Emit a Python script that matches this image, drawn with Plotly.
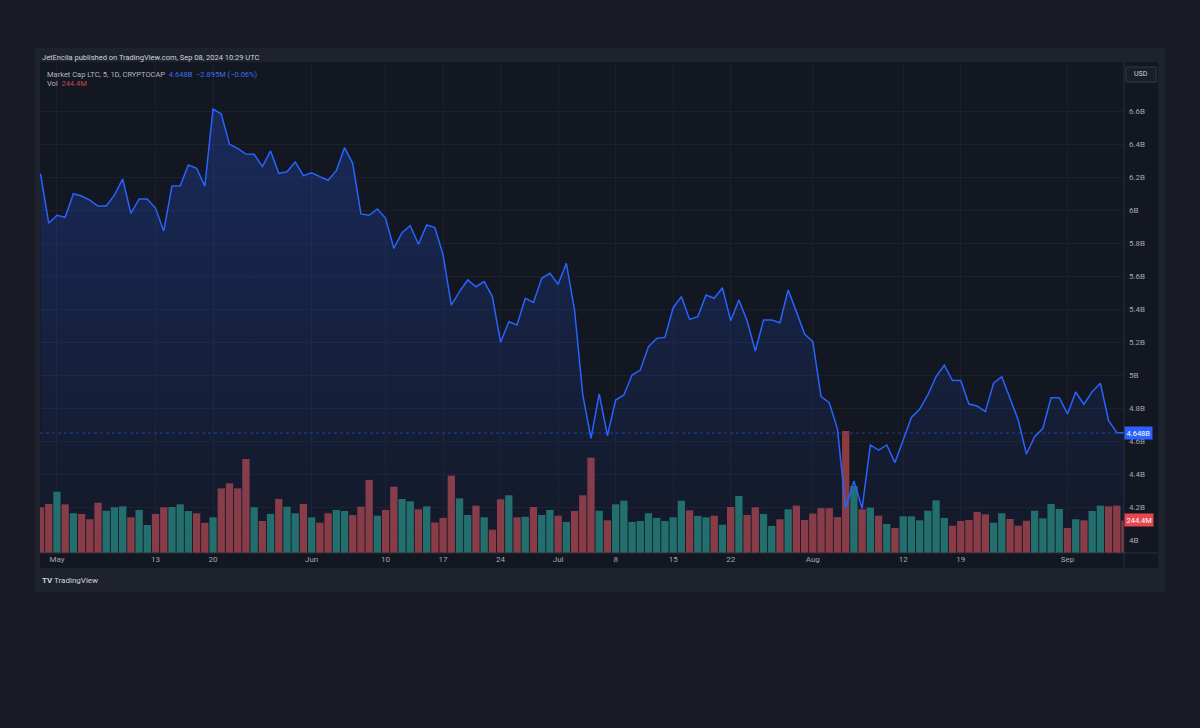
import pandas as pd
import plotly.graph_objects as go

# Market Cap LTC (CRYPTOCAP), daily, Apr 29 - Sep 8 2024, billions USD
cap_apr = [6.22, 5.92]
cap_may = [5.968, 5.956, 6.099, 6.085, 6.06, 6.024, 6.024, 6.09, 6.188, 5.98,
           6.067, 6.067, 6.01, 5.873, 6.145, 6.147, 6.273, 6.253, 6.145, 6.612,
           6.582, 6.398, 6.374, 6.339, 6.338, 6.263, 6.358, 6.222, 6.232, 6.291,
           6.208]
cap_jun = [6.226, 6.202, 6.18, 6.238, 6.378, 6.283, 5.976, 5.968, 6.006, 5.95,
           5.768, 5.862, 5.905, 5.792, 5.909, 5.893, 5.727, 5.424, 5.505, 5.576,
           5.535, 5.566, 5.475, 5.198, 5.323, 5.303, 5.465, 5.44, 5.586, 5.616]
cap_jul = [5.55, 5.677, 5.394, 4.879, 4.616, 4.885, 4.632, 4.848, 4.879, 5.0,
           5.03, 5.172, 5.222, 5.228, 5.408, 5.475, 5.337, 5.353, 5.485, 5.465,
           5.529, 5.329, 5.455, 5.329, 5.145, 5.333, 5.333, 5.317, 5.515, 5.384,
           5.248]
cap_aug = [5.202, 4.869, 4.832, 4.672, 4.192, 4.358, 4.192, 4.576, 4.545, 4.576,
           4.469, 4.606, 4.743, 4.792, 4.879, 4.99, 5.059, 4.966, 4.966, 4.824,
           4.812, 4.778, 4.95, 4.99, 4.859, 4.727, 4.521, 4.626, 4.677, 4.862,
           4.862]
cap_sep = [4.764, 4.897, 4.822, 4.899, 4.95, 4.723, 4.651, 4.648]

# volume, millions USD
vol_apr = [343, 368]
vol_may = [460, 365, 298, 293, 253, 377, 317, 343, 350, 268,
           323, 210, 293, 343, 345, 365, 315, 298, 227, 268,
           485, 523, 485, 705, 343, 240, 293, 405, 347, 298,
           368]
vol_jun = [268, 227, 298, 323, 315, 285, 347, 548, 280, 323,
           497, 405, 388, 328, 350, 229, 263, 580, 410, 285,
           355, 268, 175, 403, 433, 268, 272, 345, 285, 323]
vol_jul = [280, 233, 315, 433, 715, 317, 245, 365, 392, 233,
           240, 298, 263, 240, 268, 392, 320, 278, 268, 280,
           212, 345, 428, 285, 343, 293, 203, 253, 328, 355,
           248]
vol_aug = [296, 336, 336, 269, 915, 503, 328, 340, 280, 218,
           188, 275, 275, 245, 317, 395, 263, 205, 240, 248,
           308, 290, 227, 298, 255, 205, 242, 317, 260, 368,
           330]
vol_sep = [188, 253, 245, 315, 355, 350, 355, 244.4]

# day direction (U = up, D = down) for the volume colours
dir_apr = "DD"
dir_may = "UDUDDDUUUDUUDDUUUDDUDDDDUDUDUUD"
dir_jun = "UDDUUDDDUDDUUDUDDDUUDUDDUDUDUU"
dir_jul = "DUDDDUDUUUUUUUUUDUUDUDUDDUUDUDD"
dir_aug = "DDDDDUDUDUDUUUUUUDDDDDUUDDDUUUU"
dir_sep = "DUDUUDDD"

tick_dates = ["2024-05-01", "2024-05-13", "2024-05-20", "2024-06-01", "2024-06-10",
              "2024-06-17", "2024-06-24", "2024-07-01", "2024-07-08", "2024-07-15",
              "2024-07-22", "2024-08-01", "2024-08-12", "2024-08-19", "2024-09-01"]
tick_text = ["May", "13", "20", "Jun", "10", "17", "24", "Jul", "8", "15", "22",
             "Aug", "12", "19", "Sep"]
price_ticks = [4.0, 4.2, 4.4, 4.6, 4.8, 5.0, 5.2, 5.4, 5.6, 5.8, 6.0, 6.2, 6.4, 6.6]
price_text = ["4B", "4.2B", "4.4B", "4.6B", "4.8B", "5B", "5.2B", "5.4B", "5.6B",
              "5.8B", "6B", "6.2B", "6.4B", "6.6B"]

market_cap = cap_apr + cap_may + cap_jun + cap_jul + cap_aug + cap_sep
volume = vol_apr + vol_may + vol_jun + vol_jul + vol_aug + vol_sep
direction = dir_apr + dir_may + dir_jun + dir_jul + dir_aug + dir_sep
dates = pd.date_range("2024-04-29", periods=len(market_cap), freq="D")

PAGE = "#181b26"
PANEL = "#1e222d"
CHART = "#131722"
BORDER = "#2a2e39"
GRID = "#1c202b"
LABEL = "#a3a6af"
BLUE = "#2962ff"
TEAL = "#236f68"
RED = "#8c3b41"
FONT = "Roboto"

W, H = 1200, 728
L, R, T, B = 40, 76, 63, 175


def px(x):
    return (x - L) / (W - L - R)


def py(y):
    return (H - B - y) / (H - T - B)


fig = go.Figure()

bar_colors = [TEAL if d == "U" else RED for d in direction]
fig.add_trace(go.Bar(x=dates, y=volume, marker_color=bar_colors,
                     marker_line_width=0, yaxis="y", hoverinfo="skip"))

fig.add_trace(go.Scatter(
    x=dates, y=market_cap, yaxis="y2", mode="lines",
    line=dict(color=BLUE, width=1.5),
    fill="tozeroy",
    fillgradient=dict(type="vertical", start=4.0, stop=6.7,
                      colorscale=[[0, "rgba(41,98,255,0.03)"],
                                  [1, "rgba(41,98,255,0.26)"]]),
))

last_cap = market_cap[-1]
last_vol = volume[-1]

fig.add_shape(type="line", xref="paper", x0=0, x1=1, yref="y2",
              y0=last_cap, y1=last_cap,
              line=dict(color="rgba(41,98,255,0.55)", width=1, dash="dot"))

shapes_bg = [
    # outer panel
    dict(x0=px(35), x1=px(1165), y0=py(592), y1=py(48), fillcolor=PANEL),
    # chart widget
    dict(x0=px(40), x1=px(1158), y0=py(568), y1=py(62), fillcolor=CHART),
]
for s in shapes_bg:
    fig.add_shape(type="rect", xref="paper", yref="paper", layer="below",
                  line=dict(width=0), **s)

fig.add_shape(type="line", xref="paper", yref="paper", x0=px(1124), x1=px(1124),
              y0=py(568), y1=py(62), line=dict(color=BORDER, width=1))
fig.add_shape(type="line", xref="paper", yref="paper", x0=px(40), x1=px(1158),
              y0=py(553), y1=py(553), line=dict(color=BORDER, width=1))
fig.add_shape(type="rect", xref="paper", yref="paper", x0=px(1126), x1=px(1156),
              y0=py(82), y1=py(67), line=dict(color="#363a45", width=1),
              fillcolor="#1a1e29")

ann = [
    dict(x=px(40), y=py(57), text="JetEncila published on TradingView.com, Sep 08, 2024 10:29 UTC",
         font=dict(color="#d1d4dc", size=7.5)),
    dict(x=px(45), y=py(74),
         text=("Market Cap LTC, 5, 1D, CRYPTOCAP  "
               f"<span style='color:#3a6df0'>{last_cap:.3f}B  \u22122.895M (\u22120.06%)</span>"),
         font=dict(color="#b2b5be", size=7.5)),
    dict(x=px(45), y=py(84), text=f"Vol  <span style='color:#c9434b'>{last_vol:.1f}M</span>",
         font=dict(color="#b2b5be", size=7.5)),
    dict(x=px(1141), y=py(74.5), xanchor="center", text="USD",
         font=dict(color="#d1d4dc", size=7)),
    dict(x=px(40), y=py(580), text="<b>TV</b> TradingView",
         font=dict(color="#d1d4dc", size=8)),
]
for a in ann:
    a.setdefault("xanchor", "left")
    fig.add_annotation(xref="paper", yref="paper", yanchor="middle",
                       showarrow=False, **a)

fig.add_annotation(xref="paper", x=1.0, xanchor="left", yref="y2", y=last_cap,
                   text=f"{last_cap:.3f}B", showarrow=False, bgcolor=BLUE,
                   font=dict(color="white", size=7.5), borderpad=1.5)
fig.add_annotation(xref="paper", x=1.0, xanchor="left", yref="y", y=last_vol,
                   text=f"{last_vol:.1f}M", showarrow=False, bgcolor="#e5484f",
                   font=dict(color="white", size=7.5), borderpad=1.5)

fig.update_layout(
    width=W, height=H,
    margin=dict(l=L, r=R, t=T, b=B),
    paper_bgcolor=PAGE, plot_bgcolor=CHART,
    font=dict(family=FONT, color=LABEL, size=8),
    showlegend=False,
    bargap=0.11,
    xaxis=dict(
        type="date",
        range=["2024-04-28 22:30", "2024-09-07 21:00"],
        tickvals=tick_dates, ticktext=tick_text,
        showgrid=True, gridcolor=GRID, gridwidth=1,
        zeroline=False, showline=False, ticks="",
        tickfont=dict(color=LABEL, size=8),
    ),
    yaxis=dict(
        range=[0, 3675], visible=False, showgrid=False, zeroline=False,
    ),
    yaxis2=dict(
        overlaying="y", side="right",
        range=[3.9212, 6.8909],
        tickvals=price_ticks, ticktext=price_text,
        showgrid=True, gridcolor=GRID, gridwidth=1,
        zeroline=False, showline=False, ticks="",
        ticklabelstandoff=4,
        tickfont=dict(color=LABEL, size=8),
    ),
)

fig.write_html("out.html", config={"displayModeBar": False},
               post_script="document.body.style.margin='0';document.body.style.background='%s';" % PAGE)
